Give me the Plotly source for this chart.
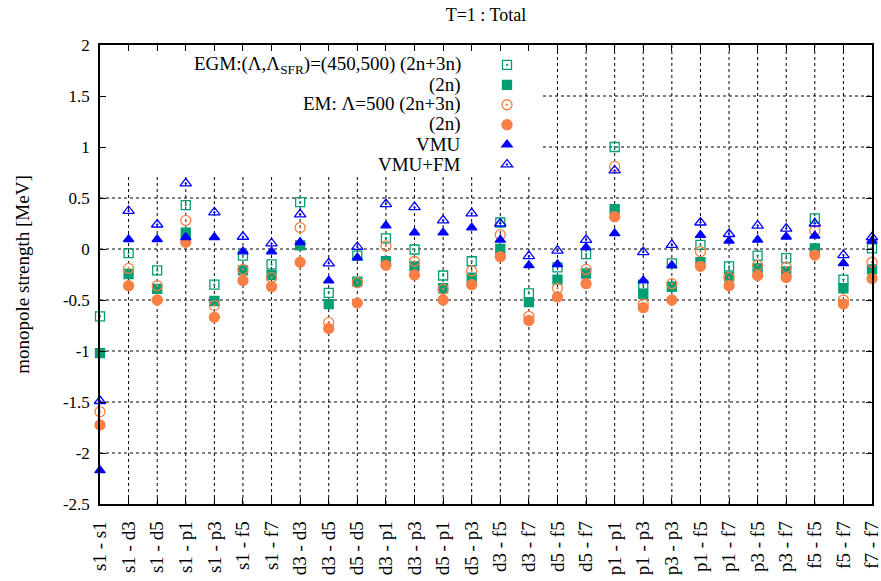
import plotly.graph_objects as go

categories = ["s1 - s1", "s1 - d3", "s1 - d5", "s1 - p1", "s1 - p3", "s1 - f5", "s1 - f7",
              "d3 - d3", "d3 - d5", "d5 - d5", "d3 - p1", "d3 - p3", "d5 - p1", "d5 - p3",
              "d3 - f5", "d3 - f7", "d5 - f5", "d5 - f7", "p1 - p1", "p1 - p3", "p3 - p3",
              "p1 - f5", "p1 - f7", "p3 - f5", "p3 - f7", "f5 - f5", "f5 - f7", "f7 - f7"]

egm_2n3n = [-0.66, -0.04, -0.21, 0.43, -0.35, -0.065, -0.15, 0.46, -0.43, -0.065, 0.105, -0.005,
            -0.26, -0.12, 0.26, -0.435, -0.18, -0.05, 1.0, -0.35, -0.14, 0.04, -0.17, -0.065,
            -0.09, 0.30, -0.30, 0.007]
egm_2n = [-1.02, -0.245, -0.39, 0.16, -0.51, -0.21, -0.255, 0.035, -0.54, -0.32, -0.12, -0.17,
          -0.385, -0.28, 0.0, -0.52, -0.30, -0.24, 0.39, -0.44, -0.37, -0.13, -0.27, -0.19,
          -0.22, 0.007, -0.385, -0.2]
em_2n3n = [-1.595, -0.19, -0.36, 0.28, -0.555, -0.2, -0.28, 0.21, -0.72, -0.33, 0.03, -0.12,
           -0.395, -0.215, 0.14, -0.66, -0.385, -0.2, 0.81, -0.54, -0.34, -0.025, -0.28, -0.16,
           -0.18, 0.18, -0.5, -0.13]
em_2n = [-1.725, -0.36, -0.5, 0.066, -0.67, -0.31, -0.37, -0.13, -0.78, -0.53, -0.16, -0.255,
         -0.5, -0.35, -0.075, -0.70, -0.47, -0.34, 0.317, -0.575, -0.5, -0.17, -0.36, -0.26,
         -0.28, -0.06, -0.54, -0.29]
vmu = [-2.17, 0.095, 0.095, 0.115, 0.115, -0.025, -0.025, 0.066, -0.31, -0.085, 0.23, 0.16,
       0.16, 0.21, 0.09, -0.16, -0.15, 0.015, 0.154, -0.31, -0.16, 0.137, 0.08, 0.09,
       0.12, 0.13, -0.14, 0.08]
vmu_fm = [-1.49, 0.373, 0.24, 0.644, 0.36, 0.12, 0.055, 0.34, -0.14, 0.02, 0.44, 0.41,
          0.28, 0.35, 0.25, -0.07, -0.015, 0.09, 0.77, -0.03, 0.04, 0.26, 0.147, 0.23,
          0.2, 0.25, -0.06, 0.115]

key_labels = ["EGM:(Λ,Λ<sub>SFR</sub>)=(450,500) (2n+3n)", "(2n)", "EM: Λ=500 (2n+3n)",
              "(2n)", "VMU", "VMU+FM"]
y_tickvals = [2, 1.5, 1, 0.5, 0, -0.5, -1, -1.5, -2, -2.5]
y_ticktext = ["2", "1.5", "1", "0.5", "0", "-0.5", "-1", "-1.5", "-2", "-2.5"]

GREEN = "#009e73"
ORANGE = "#fa7f45"
BLUE = "#0000ff"
FONT = "Liberation Serif, Times New Roman, serif"

series = [
    (egm_2n3n, "square-open-dot", GREEN, 9),
    (egm_2n, "square", GREEN, 9),
    (em_2n3n, "circle-open-dot", ORANGE, 10),
    (em_2n, "circle", ORANGE, 10),
    (vmu, "triangle-up", BLUE, 9),
    (vmu_fm, "triangle-up-open-dot", BLUE, 10),
]

xs = list(range(len(categories)))
fig = go.Figure()
for vals, sym, col, sz in series:
    fig.add_trace(go.Scatter(
        x=xs, y=vals, mode="markers", name=" ",
        marker=dict(symbol=sym, color=col, size=sz, line=dict(color=col, width=1.3)),
        cliponaxis=False, showlegend=True))

L, R, T, B = 100, 9, 45, 77
W, H = 881, 581
ph = H - T - B
pw = W - L - R

# key region (grid hidden behind the key, as in gnuplot's opaque key)
KEY_X = (543 - L) / pw * (len(categories) - 1)
KEY_Y = 0.72
grid_style = dict(color="black", width=1, dash="dot")
for i in xs[1:-1]:
    top = KEY_Y if i < KEY_X else 2
    fig.add_shape(type="line", xref="x", yref="y", x0=i, x1=i, y0=-2.5, y1=top,
                  line=grid_style, layer="below")
for v in y_tickvals[1:-1]:
    left = KEY_X if v > KEY_Y else 0
    fig.add_shape(type="line", xref="x", yref="y", x0=left, x1=len(categories) - 1,
                  y0=v, y1=v, line=grid_style, layer="below")

key_y_px = [65, 85, 104, 124, 144, 164]
for lab, ypx in zip(key_labels, key_y_px):
    fig.add_annotation(text=lab, xref="paper", yref="paper", x=(463 - L) / pw,
                       y=(H - B - ypx) / ph, xanchor="right", yanchor="middle",
                       showarrow=False, font=dict(family=FONT, size=19, color="black"))

fig.update_layout(
    width=W, height=H,
    margin=dict(l=L, r=R, t=T, b=B),
    paper_bgcolor="white", plot_bgcolor="white",
    font=dict(family=FONT, size=16, color="black"),
    title=dict(text="T=1 : Total", x=0.5, xref="paper", y=1 - 15 / H, yref="container",
               xanchor="center", yanchor="middle", font=dict(family=FONT, size=18)),
    showlegend=True,
    legend=dict(x=(487 - L) / pw, y=(H - B - 50) / ph, xanchor="left", yanchor="top",
                bgcolor="rgba(0,0,0,0)", font=dict(size=13), tracegroupgap=0,
                itemwidth=30),
)
fig.update_xaxes(
    range=[0, len(categories) - 1], tickvals=xs, ticktext=categories, tickangle=-90,
    ticks="inside", ticklen=6, tickcolor="black", mirror="ticks", showline=True,
    linecolor="black", linewidth=1.5, showgrid=False, zeroline=False, automargin=False,
    tickfont=dict(family=FONT, size=19), ticklabelstandoff=8, ticklabeloverflow="allow",
)
fig.update_yaxes(
    range=[-2.5, 2], tickvals=y_tickvals, ticktext=y_ticktext,
    ticks="inside", ticklen=6, tickcolor="black", mirror="ticks", showline=True,
    linecolor="black", linewidth=1.5, showgrid=False, zeroline=False, automargin=False,
    tickfont=dict(family=FONT, size=17), ticklabelstandoff=5,
    title=dict(text="monopole strength [MeV]", standoff=28, font=dict(family=FONT, size=19)),
)
fig.write_html("out.html")
